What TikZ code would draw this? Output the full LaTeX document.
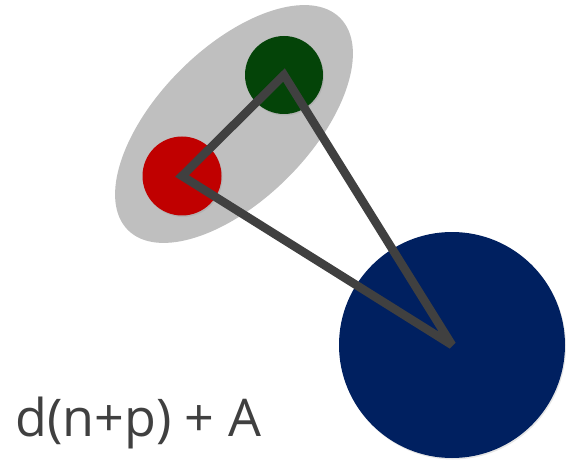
\documentclass[tikz,border=0pt]{standalone}
\usepackage{fontspec}
\setmainfont{Open Sans}
\usetikzlibrary{shapes.geometric, shadows, backgrounds}
\definecolor{LGray}{HTML}{BFBFBF}
\definecolor{DGray}{HTML}{404040}
\definecolor{DGreen}{HTML}{044408}
\definecolor{DRed}{HTML}{C00000}
\definecolor{DBlue}{HTML}{002060}
\tikzset{
    ball/.style={circle, inner sep=0, outer sep=0,
        drop shadow={opacity=0.2, shadow xshift=1pt, shadow yshift=-1.5pt}},
    link/.style={DGray, line width=8.5pt, line join=miter, miter limit=2}
}

\begin{document}
\begin{tikzpicture}[x=1pt, y=1pt]
\useasboundingbox (0,0) rectangle (566,459);

\node[ellipse, fill=LGray, rotate=45, minimum width=300, minimum height=152,
    inner sep=0] (group) at (234,335) {};

\node[ball, fill=DGreen, minimum size=78] (green) at (284,384) {};
\node[ball, fill=DRed, minimum size=79] (red) at (182,283) {};
\node[ball, fill=DBlue, minimum size=226] (blue) at (452,114) {};

\draw[link] (red.center) -- (green.center) -- (blue.center) -- cycle;

\node[anchor=base west, inner sep=0, text=DGray,
    font=\fontsize{52}{60}\selectfont] (formula) at (15,23) {d(n+p) + A};

\end{tikzpicture}
\end{document}
